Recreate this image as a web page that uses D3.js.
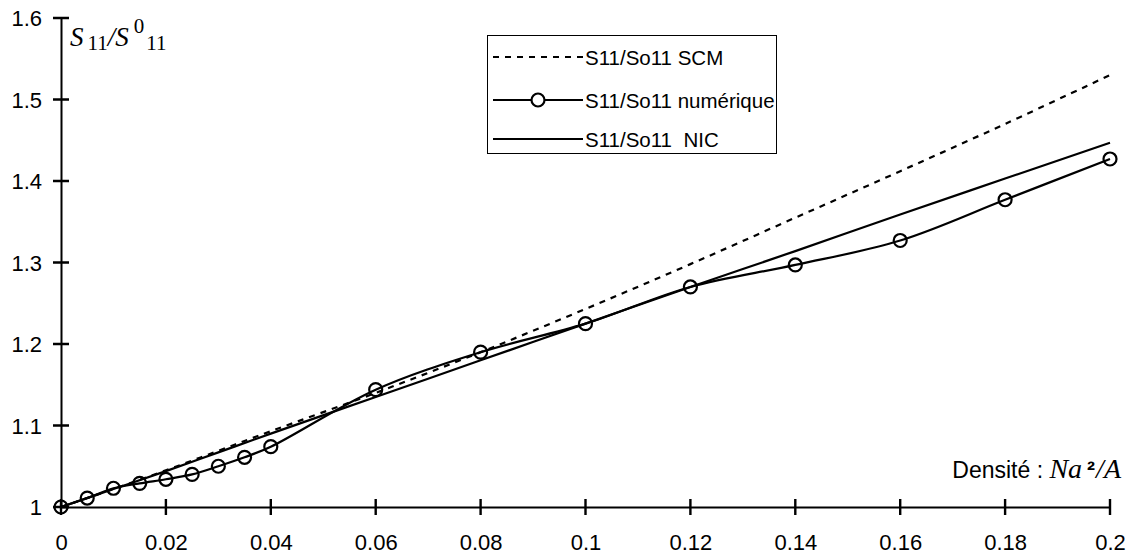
<!DOCTYPE html>
<html><head><meta charset="utf-8">
<script src="https://cdn.jsdelivr.net/npm/d3@7"></script>
<style>body{margin:0;background:#fff}svg{display:block}text{white-space:pre}</style>
</head><body>
<svg id="c" width="1136" height="555"></svg>
<script>
const numX = [0,0.005,0.01,0.015,0.02,0.025,0.03,0.035,0.04,0.06,0.08,0.1,0.12,0.14,0.16,0.18,0.2];
const numY = [1.0,1.011,1.023,1.029,1.034,1.040,1.050,1.061,1.074,1.144,1.190,1.225,1.270,1.297,1.327,1.377,1.427];
const refX = [0,0.01,0.02,0.03,0.04,0.06,0.08,0.1,0.12,0.14,0.16,0.18,0.2];
const scmY = [1.0,1.022,1.045,1.069,1.093,1.140,1.190,1.243,1.298,1.355,1.412,1.470,1.530];
const nicY = [1.0,1.022,1.044,1.067,1.090,1.135,1.180,1.225,1.270,1.314,1.359,1.403,1.447];
const xTicks = [0,0.02,0.04,0.06,0.08,0.1,0.12,0.14,0.16,0.18,0.2];
const yTicks = [1,1.1,1.2,1.3,1.4,1.5,1.6];
const legendLabels = ["S11/So11 SCM","S11/So11 numérique","S11/So11  NIC"];

const svg = d3.select("#c");
const x = d3.scaleLinear().domain([0,0.2]).range([61,1110]);
const y = d3.scaleLinear().domain([1,1.6]).range([507,18]);
const font = "Arial, 'Liberation Sans', sans-serif";
const serif = "'Liberation Serif','Times New Roman',serif";

// axes (d3 axis generators, restyled)
const xa = svg.append("g").attr("transform","translate(0,507)")
  .call(d3.axisBottom(x).tickValues(xTicks).tickFormat(d=>String(+d.toFixed(2))).tickSize(0).tickSizeOuter(0));
const ya = svg.append("g").attr("transform","translate(61,0)")
  .call(d3.axisLeft(y).tickValues(yTicks).tickFormat(d=>String(+d.toFixed(1))).tickSize(0).tickSizeOuter(0));
[xa,ya].forEach(a=>{
  a.select(".domain").attr("stroke","#000").attr("stroke-width",2);
  a.selectAll("text").attr("font-family",font).attr("font-size",22).attr("fill","#000");
});
xa.selectAll("text").attr("y",43).attr("dy",0);
ya.selectAll("text").attr("x",-19).attr("dy","0.35em");

// tick marks crossing the axes, as one path
const tickPath = xTicks.map(d=>`M${x(d)},${y(1)-8}V${y(1)+8}`).join("") +
                 yTicks.map(d=>`M${x(0)-8},${y(d)}H${x(0)+8}`).join("");
svg.append("path").attr("d",tickPath).attr("fill","none").attr("stroke","#000").attr("stroke-width",2.4);

// lines
const smooth = d3.line().x(d=>x(d[0])).y(d=>y(d[1])).curve(d3.curveCatmullRom.alpha(0.5));
svg.append("path").datum(refX.map((v,i)=>[v,scmY[i]])).attr("d",smooth)
  .attr("fill","none").attr("stroke","#000").attr("stroke-width",2.2).attr("stroke-dasharray","6,6");
svg.append("path").datum(refX.map((v,i)=>[v,nicY[i]])).attr("d",smooth)
  .attr("fill","none").attr("stroke","#000").attr("stroke-width",2.2);
svg.append("path").datum(numX.map((v,i)=>[v,numY[i]])).attr("d",smooth)
  .attr("fill","none").attr("stroke","#000").attr("stroke-width",2.2);
svg.append("g").selectAll("circle").data(numX.map((v,i)=>[v,numY[i]])).join("circle")
  .attr("cx",d=>x(d[0])).attr("cy",d=>y(d[1])).attr("r",6.5)
  .attr("fill","none").attr("stroke","#000").attr("stroke-width",2.2);

// axis titles
const yt = svg.append("text").attr("x",70).attr("y",46).attr("font-family",serif).attr("font-size",27).attr("font-style","italic");
yt.append("tspan").text("S");
yt.append("tspan").attr("font-style","normal").attr("font-size",21).attr("dx",4).attr("dy",4).text("11");
yt.append("tspan").attr("dy",-4).text("/S");
yt.append("tspan").attr("font-style","normal").attr("font-size",21).attr("dx",5).attr("dy",-13).text("0");
yt.append("tspan").attr("font-style","normal").attr("font-size",21).attr("dx",2).attr("dy",17).text("11");

const xt = svg.append("text").attr("x",1121).attr("y",478).attr("text-anchor","end");
xt.append("tspan").attr("font-family",font).attr("font-size",23).text("Densité : ");
xt.append("tspan").attr("font-family",serif).attr("font-style","italic").attr("font-size",28).text("Na");
xt.append("tspan").attr("font-family",font).attr("font-size",24).attr("font-weight","bold").attr("dx",5).text("²");
xt.append("tspan").attr("font-family",serif).attr("font-style","italic").attr("font-size",28).attr("dx",1).text("/A");

// legend
const lg = svg.append("g");
lg.append("rect").attr("x",487.5).attr("y",35.5).attr("width",289).attr("height",118).attr("fill","#fff").attr("stroke","#000").attr("stroke-width",1);
const rowsY = [57,100,139];
legendLabels.forEach((t,i)=>{
  const yy = rowsY[i];
  const l = lg.append("line").attr("x1",493).attr("x2",583).attr("y1",yy).attr("y2",yy).attr("stroke","#000").attr("stroke-width",2.2);
  if(i===0) l.attr("stroke-dasharray","6,6");
  if(i===1) lg.append("circle").attr("cx",538).attr("cy",yy).attr("r",6.5).attr("fill","#fff").attr("stroke","#000").attr("stroke-width",2.2);
  lg.append("text").attr("x",585).attr("y",yy+7.5).attr("font-family",font).attr("font-size",20.5).text(t);
});
</script>
</body></html>
